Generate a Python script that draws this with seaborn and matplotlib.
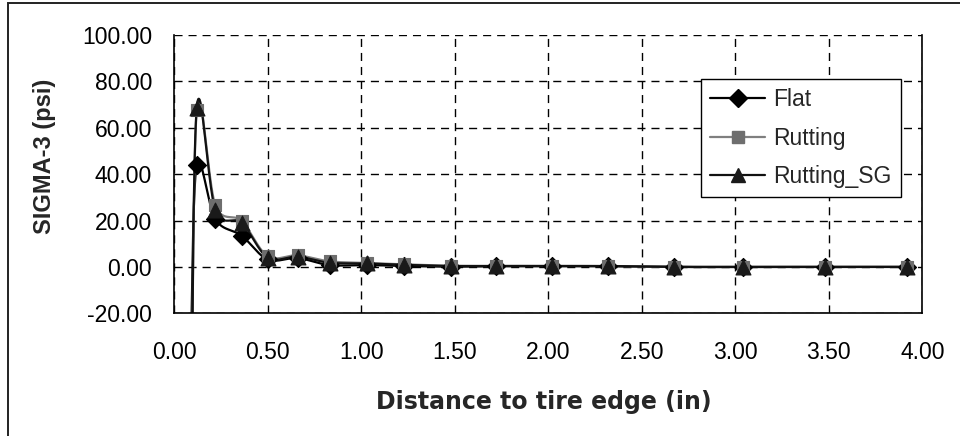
import numpy as np
import pandas as pd
import matplotlib
matplotlib.use("Agg")
import matplotlib.pyplot as plt
from matplotlib.lines import Line2D
from matplotlib.patches import Rectangle
import seaborn as sns

# Stress at the top of the subgrade vs. distance from the tire edge
distance_in = [0.09, 0.12, 0.22, 0.36, 0.50, 0.66, 0.83, 1.03, 1.23, 1.48,
               1.72, 2.02, 2.32, 2.67, 3.04, 3.48, 3.92]
flat = [-30.0, 44.0, 20.5, 13.5, 3.2, 3.8, 0.8, 0.8, 0.4, 0.1,
        0.3, 0.3, 0.3, 0.0, 0.0, 0.0, 0.0]
rutting = [-100.0, 67.5, 26.5, 19.8, 4.6, 5.0, 2.4, 1.7, 1.1, 0.5,
           0.4, 0.4, 0.4, 0.0, 0.0, 0.0, 0.0]
rutting_sg = [-90.0, 68.5, 24.5, 19.0, 4.0, 4.4, 1.8, 1.5, 0.9, 0.4,
              0.4, 0.4, 0.4, 0.0, 0.0, 0.0, 0.0]

series_names = ["Flat", "Rutting", "Rutting_SG"]
series_values = [flat, rutting, rutting_sg]
line_colors = {"Flat": "#000000", "Rutting": "#7f7f7f", "Rutting_SG": "#111111"}
marker_colors = {"Flat": "#000000", "Rutting": "#6e6e6e", "Rutting_SG": "#1a1a1a"}
marker_shapes = {"Flat": "D", "Rutting": "s", "Rutting_SG": "^"}
marker_sizes = {"Flat": 85, "Rutting": 80, "Rutting_SG": 115}

x_ticks = [0.0, 0.5, 1.0, 1.5, 2.0, 2.5, 3.0, 3.5, 4.0]
y_ticks = [-20, 0, 20, 40, 60, 80, 100]


def smooth_curve(xs, ys, n=40):
    """Bezier smoothing through the points (control points at 1/6 of the
    neighbour chord), as used for smoothed spreadsheet line charts."""
    p = np.column_stack([xs, ys]).astype(float)
    ext = np.vstack([p[0], p, p[-1]])
    out = []
    t = np.linspace(0, 1, n)[:, None]
    for i in range(len(p) - 1):
        p0, p1 = ext[i + 1], ext[i + 2]
        c1 = p0 + (ext[i + 2] - ext[i]) / 6.0
        c2 = p1 - (ext[i + 3] - ext[i + 1]) / 6.0
        seg = ((1 - t) ** 3) * p0 + 3 * ((1 - t) ** 2) * t * c1 \
            + 3 * (1 - t) * t ** 2 * c2 + t ** 3 * p1
        out.append(seg if i == 0 else seg[1:])
    return np.vstack(out)


sns.set_style("white")
plt.rcParams["font.family"] = ["Liberation Sans", "DejaVu Sans"]

fig = plt.figure(figsize=(9.6, 4.36), dpi=100)
ax = fig.add_axes([174.3 / 960, 1 - 313.3 / 436, (922.3 - 174.3) / 960, (313.3 - 35) / 436])

points = pd.DataFrame({
    "distance": np.tile(distance_in, len(series_names)),
    "sigma3": np.concatenate(series_values),
    "series": np.repeat(series_names, len(distance_in)),
})

curves = []
for name, vals in zip(series_names, series_values):
    c = smooth_curve(distance_in, vals)
    curves.append(pd.DataFrame({"distance": c[:, 0], "sigma3": c[:, 1], "series": name}))
curves = pd.concat(curves, ignore_index=True)

# grid
for xv in x_ticks:
    ax.axvline(xv, color="black", lw=1.0, ls=(0, (5.8, 4.3)), zorder=0.5)
for yv in y_ticks:
    ax.axhline(yv, color="black", lw=1.0, ls=(0, (5.8, 4.3)), zorder=0.5)

for name in series_names:
    sub = curves[curves["series"] == name]
    sns.lineplot(data=sub, x="distance", y="sigma3", sort=False, estimator=None,
                 color=line_colors[name], lw=1.6, ax=ax, legend=False, zorder=2)
    pts = points[points["series"] == name]
    sns.scatterplot(data=pts, x="distance", y="sigma3", marker=marker_shapes[name],
                    s=marker_sizes[name], color=marker_colors[name],
                    edgecolor=marker_colors[name], linewidth=0.8, ax=ax,
                    legend=False, zorder=3)

ax.set_xlim(0, 4)
ax.set_ylim(-20, 100)
ax.set_xticks(x_ticks)
ax.set_yticks(y_ticks)
ax.set_xticklabels([f"{v:.2f}" for v in x_ticks])
ax.set_yticklabels([f"{v:.2f}" for v in y_ticks])
ax.tick_params(axis="both", direction="out", length=8, width=1, color="black",
               labelsize=16.5, labelcolor="black")
ax.tick_params(axis="x", pad=12)
ax.tick_params(axis="y", pad=8)
ax.set_xlabel("")
ax.set_ylabel("")
for side in ["left", "bottom", "right"]:
    ax.spines[side].set_visible(True)
    ax.spines[side].set_color("black")
    ax.spines[side].set_linewidth(1.2)
ax.spines["top"].set_visible(False)

fig.text(544 / 960, 1 - 402 / 436, "Distance to tire edge (in)", ha="center", va="center",
         fontsize=17, fontweight="bold", family="DejaVu Sans")
fig.text(45 / 960, 1 - 156 / 436, "SIGMA-3 (psi)", ha="center", va="center",
         rotation=90, fontsize=17, fontweight="bold")

handles = [Line2D([0], [0], color=line_colors[n], lw=1.6, marker=marker_shapes[n],
                  markersize={"Flat": 9, "Rutting": 8.5, "Rutting_SG": 10.5}[n],
                  markerfacecolor=marker_colors[n], markeredgecolor=marker_colors[n])
           for n in series_names]
leg = ax.legend(handles, series_names, loc="upper left",
                bbox_to_anchor=((701 - 174.3) / 748, (313.3 - 79) / 278.3),
                frameon=True, fancybox=False, edgecolor="black", framealpha=1,
                fontsize=16.5, handlelength=2.4, handletextpad=0.35,
                labelspacing=0.68, borderpad=0.4, borderaxespad=0)
leg.get_frame().set_linewidth(1.0)

# chart-area frame
fig.add_artist(Rectangle((8 / 960, -0.05), 1.2, 1 - 3 / 436 + 0.05, transform=fig.transFigure,
                         fill=False, edgecolor="#222222", lw=1.4))

fig.savefig("out.png", dpi=100)
